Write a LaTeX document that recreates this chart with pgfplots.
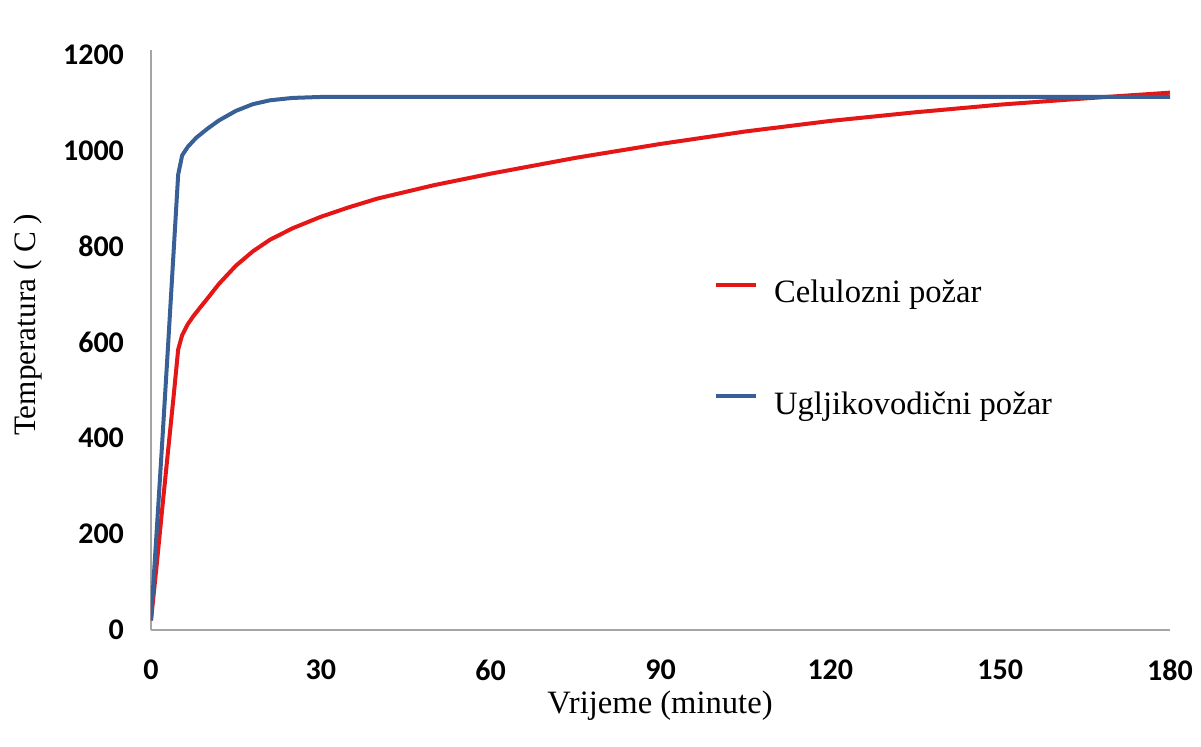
\documentclass[border=0pt]{standalone}
\usepackage{pgfplots}
\pgfplotsset{compat=1.18}
\usepackage{fontspec}
\setmainfont{Liberation Serif}
\newfontfamily\carlito{Carlito}
\definecolor{cred}{RGB}{228,22,22}
\definecolor{cblue}{RGB}{56,96,150}
\definecolor{axgray}{RGB}{165,165,165}
\begin{document}
\begin{tikzpicture}
\useasboundingbox (-75.5pt,-58.5pt) rectangle (525pt,315pt);
\begin{axis}[
  at={(0pt,0pt)}, anchor=south west,
  scale only axis,
  width=509.5pt, height=290pt,
  xmin=0, xmax=180, ymin=0, ymax=1210,
  axis lines*=left,
  axis line style={draw=axgray, line width=1pt, -},
  xtick={0,30,...,180},
  ytick={0,200,...,1200},
  tick style={draw=none},
  /pgf/number format/assume math mode=true,
  /pgf/number format/1000 sep={},
  ticklabel style={font=\carlito\bfseries\fontsize{15}{18}\selectfont},
  xticklabel style={yshift=-11.5pt},
  yticklabel style={xshift=-10pt},
  xlabel={Vrijeme (minute)},
  ylabel={Temperatura ( C )},
  label style={font=\fontsize{16.3}{19}\selectfont},
  xlabel style={at={(axis description cs:0.4995,-0.131)}, anchor=center},
  ylabel style={at={(axis description cs:-0.1207,0.526)}, anchor=center, font=\fontsize{15.6}{19}\selectfont},
  legend style={at={(axis cs:99.4,740)}, anchor=north west, draw=none, fill=none,
    font=\fontsize{16.3}{19}\selectfont, row sep=39pt, inner sep=0pt,
    cells={anchor=west}},
  legend image code/.code={\draw[#1] (0pt,4pt) -- (20pt,4pt); \path (26pt,0pt);},
  legend cell align=left,
]
\addplot[cred, line width=2pt, line join=round] coordinates {
(0,20) (1,135) (2,255) (3,372) (4,488) (4.8,585) (5.5,615) (6.5,638) (7.5,655) (8.5,670) (10,692) (12,722) (15,760) (18,790) (21,814) (25,838) (30,862) (35,882) (40,900) (50,928) (60,952) (75,985) (90,1014) (105,1040) (120,1062) (135,1080) (150,1096) (165,1109) (180,1121)
};
\addlegendentry{Celulozni požar}
\addplot[cblue, line width=2pt, line join=round] coordinates {
(0,20) (1,205) (2,395) (3,590) (4,790) (4.8,950) (5.5,990) (6.5,1008) (8,1027) (10,1046) (12,1063) (15,1083) (18,1097) (21,1105) (25,1110) (30,1112) (60,1112) (90,1112) (120,1112) (150,1112) (180,1112)
};
\addlegendentry{Ugljikovodični požar}
\end{axis}
\end{tikzpicture}
\end{document}
